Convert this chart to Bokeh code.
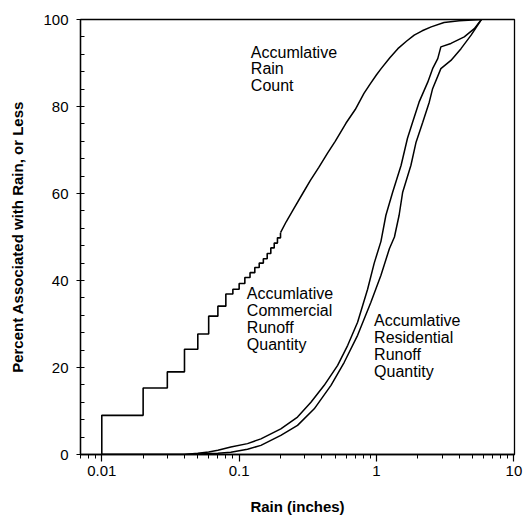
from bokeh.plotting import figure
from bokeh.models import FixedTicker, CustomJSTickFormatter, Range1d
from bokeh.core.properties import value
from bokeh.embed import file_html
from bokeh.resources import INLINE

# ---- data ----
# Accumulative rain count: stair part (0.01 inch increments)
rain_step_x = [0.01, 0.01, 0.02, 0.03, 0.04, 0.05, 0.06, 0.07, 0.08, 0.09, 0.10,
               0.11, 0.12, 0.13, 0.14, 0.15, 0.16, 0.17, 0.18, 0.19, 0.20]
rain_step_y = [0.0, 9.0, 15.3, 19.0, 24.2, 27.7, 31.8, 34.1, 36.9, 38.0, 39.3,
               40.7, 41.8, 43.0, 44.0, 45.0, 46.2, 47.5, 48.6, 49.8, 51.0]
# Accumulative rain count: smooth part
rain_x = [0.20, 0.22, 0.25, 0.29, 0.33, 0.38, 0.44, 0.50, 0.60, 0.70, 0.81,
          0.90, 1.0, 1.08, 1.25, 1.43, 1.65, 1.88, 2.15, 2.5, 3.1, 4.0, 5.8]
rain_y = [51.0, 53.5, 56.5, 60.0, 63.0, 66.0, 69.3, 72.0, 76.2, 79.3, 83.0,
          85.2, 87.3, 88.7, 91.2, 93.3, 95.0, 96.4, 97.4, 98.3, 99.3, 99.7, 100.0]

# Accumulative commercial runoff quantity
com_x = [0.01, 0.04, 0.05, 0.06, 0.07, 0.087, 0.115, 0.144, 0.201, 0.266, 0.333,
         0.416, 0.521, 0.617, 0.728, 0.861, 0.962, 1.077, 1.17, 1.31, 1.51, 1.68,
         1.83, 2.04, 2.36, 2.56, 2.79, 2.94, 3.48, 4.35, 5.15, 5.8]
com_y = [0.0, 0.0, 0.3, 0.6, 1.0, 1.7, 2.5, 3.6, 5.9, 8.6, 12.0,
         15.9, 20.5, 25.1, 30.4, 38.0, 44.0, 49.0, 55.0, 60.3, 66.5, 72.7,
         76.4, 81.0, 85.6, 88.7, 91.0, 93.7, 94.5, 96.0, 97.9, 100.0]

# Accumulative residential runoff quantity
res_x = [0.01, 0.04, 0.05, 0.07, 0.087, 0.115, 0.144, 0.201, 0.266, 0.352, 0.466,
         0.582, 0.728, 0.91, 1.077, 1.24, 1.35, 1.46, 1.55, 1.78, 1.94, 2.17,
         2.42, 2.56, 2.94, 3.48, 4.12, 4.88, 5.8]
res_y = [0.0, 0.0, 0.1, 0.3, 0.5, 1.2, 2.1, 4.4, 6.7, 10.5, 15.9,
         21.2, 27.4, 35.0, 41.2, 47.3, 50.0, 55.0, 60.3, 66.5, 71.8, 76.4,
         81.0, 84.1, 88.7, 90.6, 93.3, 96.4, 100.0]

x_ticks = [0.01, 0.1, 1, 10]
y_ticks = [0, 20, 40, 60, 80, 100]

FONT = "Liberation Sans"

p = figure(width=524, height=525, x_axis_type="log",
           x_range=Range1d(0.007, 10.1), y_range=Range1d(0, 100),
           output_backend="svg", toolbar_location=None,
           min_border_left=80, min_border_right=10,
           min_border_top=19, min_border_bottom=71)

p.background_fill_color = "white"
p.border_fill_color = "white"
p.outline_line_color = "black"
p.outline_line_width = 1.3
p.xgrid.visible = False
p.ygrid.visible = False

minor_x = [k * 10.0 ** d for d in range(-3, 2) for k in range(2, 10)]
p.xaxis.ticker = FixedTicker(ticks=x_ticks, minor_ticks=minor_x)
p.xaxis.formatter = CustomJSTickFormatter(code="return String(tick);")
p.yaxis.ticker = FixedTicker(ticks=y_ticks, minor_ticks=list(range(0, 101, 4)))

for ax in (p.xaxis, p.yaxis):
    ax.axis_line_color = "black"
    ax.axis_line_width = 1.3
    ax.major_tick_line_color = "black"
    ax.minor_tick_line_color = "black"
    ax.major_tick_line_width = 1.2
    ax.minor_tick_line_width = 1.0
    ax.major_label_text_font = FONT
    ax.major_label_text_font_size = "15px"
    ax.major_label_text_color = "black"
    ax.axis_label_text_font = FONT
    ax.axis_label_text_font_size = "15px"
    ax.axis_label_text_font_style = "bold"
    ax.axis_label_text_color = "black"

p.xaxis.major_tick_out = 7
p.xaxis.major_tick_in = 0
p.xaxis.minor_tick_out = 4
p.xaxis.minor_tick_in = 0
p.xaxis.major_label_standoff = 4
p.xaxis.axis_label = "Rain (inches)"
p.xaxis.axis_label_standoff = 19

p.yaxis.major_tick_out = 4
p.yaxis.major_tick_in = 3
p.yaxis.minor_tick_out = 0
p.yaxis.minor_tick_in = 4
p.yaxis.major_label_standoff = 8
p.yaxis.axis_label = "Percent Associated with Rain, or Less"
p.yaxis.axis_label_standoff = 14

# curves
p.step(rain_step_x, rain_step_y, mode="after", line_color="black", line_width=1.6)
p.line(rain_x, rain_y, line_color="black", line_width=1.5)
p.line(com_x, com_y, line_color="black", line_width=1.5)
p.line(res_x, res_y, line_color="black", line_width=1.5)

# annotations
label_rain = ["Accumlative", "Rain", "Count"]
label_com = ["Accumlative", "Commercial", "Runoff", "Quantity"]
label_res = ["Accumlative", "Residential", "Runoff", "Quantity"]

def put(lines, x, y0, dy):
    ys = [y0 - i * dy for i in range(len(lines))]
    p.text(x=[x] * len(lines), y=ys, text=lines,
           text_font=value(FONT), text_font_size="16px",
           text_color="black", text_baseline="middle", text_align="left")

put(label_rain, 0.1216, 92.5, 3.85)
put(label_com, 0.1138, 36.9, 3.85)
put(label_res, 0.96, 30.7, 3.85)

open("out.html", "w").write(file_html(p, INLINE))
